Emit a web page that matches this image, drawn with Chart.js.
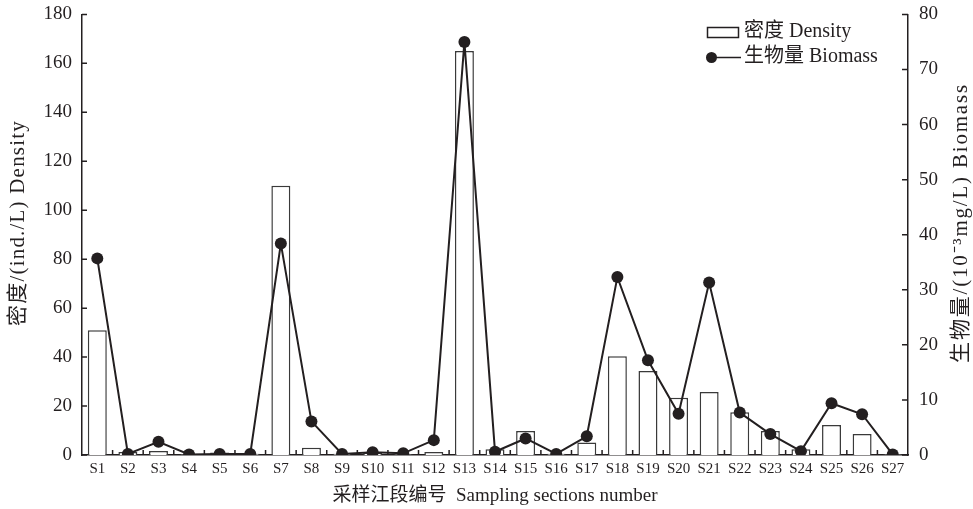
<!DOCTYPE html>
<html>
<head>
<meta charset="utf-8">
<script src="https://cdn.jsdelivr.net/npm/chart.js@4"></script>
<style>
  html, body { margin: 0; padding: 0; background: #fff; }
  #wrap { width: 973px; height: 509px; }
</style>
</head>
<body>
<div id="wrap"><canvas id="c" width="973" height="509"></canvas></div>
<script>
// Sampling sections
const sections = ['S1','S2','S3','S4','S5','S6','S7','S8','S9','S10','S11','S12','S13','S14',
  'S15','S16','S17','S18','S19','S20','S21','S22','S23','S24','S25','S26','S27'];
// Density, ind./L (left axis)
const density = [51, 1.2, 1.6, 0.3, 1.0, 0.5, 110, 3.0, 0.5, 0.8, 0.3, 1.2, 165, 2.4,
  9.8, 0.5, 5.1, 40.3, 34.3, 23.4, 25.7, 17.5, 9.8, 2.3, 12.3, 8.6, 0.3];
// Biomass, 10^-3 mg/L (right axis)
const biomass = [35.7, 0.2, 2.4, 0.1, 0.2, 0.2, 38.4, 6.1, 0.2, 0.5, 0.3, 2.7, 75, 0.6,
  3.0, 0.2, 3.4, 32.3, 17.2, 7.5, 31.3, 7.7, 3.8, 0.7, 9.4, 7.4, 0.1];

const densityLabel = '密度 Density';
const biomassLabel = '生物量 Biomass';
const leftTitle = '密度/(ind./L) Density';
const rightTitle = '生物量/(10⁻³mg/L) Biomass';
const xTitle = '采样江段编号  Sampling sections number';

const SERIF = '"Liberation Serif", "Times New Roman", "Noto Sans CJK SC", serif';
const INK = '#231f20';

// Draws a title rotated to read bottom to top
function verticalTitle(ctx, text, cx, cy, size, spacing) {
  ctx.save();
  ctx.translate(cx, cy);
  ctx.rotate(-Math.PI / 2);
  ctx.font = size + 'px ' + SERIF;
  ctx.letterSpacing = spacing + 'px';
  ctx.textAlign = 'center';
  ctx.textBaseline = 'middle';
  ctx.fillStyle = INK;
  ctx.fillText(text, 0, 0);
  ctx.restore();
}

// Inward tick marks, x-axis boundary ticks, custom legend and y-axis titles
const decor = {
  id: 'decor',
  afterDraw(chart) {
    const ctx = chart.ctx;
    const y = chart.scales.y, y1 = chart.scales.y1, x = chart.scales.x;
    const area = chart.chartArea;
    ctx.save();
    ctx.strokeStyle = INK;
    ctx.lineWidth = 1.5;
    ctx.beginPath();
    y.ticks.forEach(t => {
      const p = y.getPixelForValue(t.value);
      ctx.moveTo(area.left, p); ctx.lineTo(area.left + 5, p);
    });
    y1.ticks.forEach(t => {
      const p = y1.getPixelForValue(t.value);
      ctx.moveTo(area.right, p); ctx.lineTo(area.right - 6, p);
    });
    for (let i = 0; i < sections.length - 1; i++) {
      const p = (x.getPixelForValue(i) + x.getPixelForValue(i + 1)) / 2;
      ctx.moveTo(p, area.bottom); ctx.lineTo(p, area.bottom - 5);
    }
    ctx.stroke();

    // legend
    const ds = chart.data.datasets;
    ctx.font = '20px ' + SERIF;
    ctx.fillStyle = INK;
    ctx.textBaseline = 'middle';
    ctx.lineWidth = 1.5;
    ctx.strokeRect(707.5, 27.5, 31, 10);
    ctx.fillText(ds[1].label, 744, 32);
    ctx.beginPath();
    ctx.moveTo(708, 57.5); ctx.lineTo(741, 57.5);
    ctx.stroke();
    ctx.beginPath();
    ctx.arc(711.5, 57.5, 5.5, 0, Math.PI * 2);
    ctx.fill();
    ctx.fillText(ds[0].label, 744, 57);
    ctx.restore();

    verticalTitle(ctx, leftTitle, 18, 223, 21, 1.2);
    verticalTitle(ctx, rightTitle, 961, 223, 21, 1.8);
  }
};

new Chart(document.getElementById('c'), {
  data: {
    labels: sections,
    datasets: [
      {
        type: 'line',
        label: biomassLabel,
        data: biomass,
        yAxisID: 'y1',
        order: 0,
        borderColor: INK,
        borderWidth: 2,
        backgroundColor: INK,
        pointBackgroundColor: INK,
        pointBorderColor: INK,
        pointRadius: 6,
        pointBorderWidth: 0,
        tension: 0
      },
      {
        type: 'bar',
        label: densityLabel,
        data: density,
        yAxisID: 'y',
        order: 1,
        backgroundColor: '#ffffff',
        borderColor: '#3a3a3a',
        borderWidth: 1.5,
        barPercentage: 0.62,
        categoryPercentage: 1.0
      }
    ]
  },
  options: {
    responsive: false,
    animation: false,
    devicePixelRatio: 1,
    layout: { padding: { top: 8, right: 0, left: 0, bottom: 2 } },
    plugins: { legend: { display: false }, tooltip: { enabled: false } },
    scales: {
      x: {
        type: 'category',
        offset: true,
        grid: { display: false, offset: true },
        border: { display: true, color: INK, width: 1.5 },
        ticks: { color: INK, font: { family: SERIF, size: 15 }, padding: -3, maxRotation: 0, autoSkip: false },
        title: { display: true, text: xTitle, color: INK, font: { family: SERIF, size: 19 }, padding: { top: 12, bottom: 0 } },
        afterFit(s) { s.height = 52; }
      },
      y: {
        position: 'left',
        min: 0, max: 180,
        grid: { display: false },
        border: { display: true, color: INK, width: 1.5 },
        ticks: { stepSize: 20, color: INK, font: { family: SERIF, size: 19 }, padding: 2 },
        afterFit(s) { s.width = 82; }
      },
      y1: {
        position: 'right',
        min: 0, max: 80,
        grid: { display: false },
        border: { display: true, color: INK, width: 1.5 },
        ticks: { stepSize: 10, color: INK, font: { family: SERIF, size: 19 }, padding: 3 },
        afterFit(s) { s.width = 65; }
      }
    }
  },
  plugins: [decor]
});
</script>
</body>
</html>
